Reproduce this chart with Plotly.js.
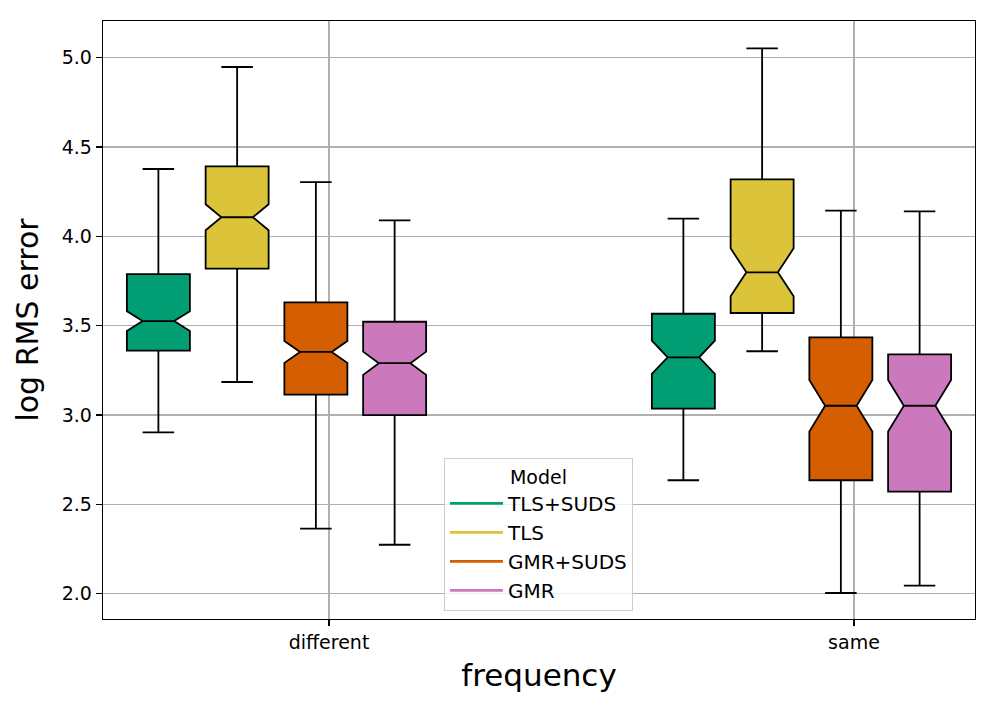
<!DOCTYPE html>
<html>
<head>
<meta charset="utf-8">
<script src="https://cdn.plot.ly/plotly-3.0.1.min.js"></script>
<style>html,body{margin:0;padding:0;background:#fff;}#chart{width:996px;height:712px;}</style>
</head>
<body>
<div id="chart"></div>
<script>
// ---- data ----
const categories = ["different", "same"];
const models = ["TLS+SUDS", "TLS", "GMR+SUDS", "GMR"];
const colors = ["#029e73", "#dcc43a", "#d55e00", "#cc78bc"];
// each row = one model, columns = categories
const lowerFence = [[2.903, 2.635], [3.185, 3.357], [2.364, 2.004], [2.274, 2.045]];
const q1 =         [[3.360, 3.036], [3.819, 3.571], [3.114, 2.635], [3.000, 2.571]];
const median =     [[3.526, 3.323], [4.107, 3.799], [3.353, 3.052], [3.290, 3.052]];
const q3 =         [[3.789, 3.567], [4.392, 4.319], [3.631, 3.435], [3.522, 3.340]];
const upperFence = [[4.377, 4.099], [4.948, 5.052], [4.304, 4.144], [4.090, 4.140]];
const notchSpan =  [[0.055, 0.093], [0.073, 0.134], [0.061, 0.144], [0.065, 0.144]];
const yTickVals = [2.0, 2.5, 3.0, 3.5, 4.0, 4.5, 5.0];

const FONT = "DejaVu Sans, Liberation Sans, sans-serif";
const traces = [];
models.forEach((m, i) => {
  traces.push({
    type: "box",
    name: m,
    x: categories,
    q1: q1[i], median: median[i], q3: q3[i],
    lowerfence: lowerFence[i], upperfence: upperFence[i],
    notchspan: notchSpan[i],
    notched: true,
    notchwidth: 0.25,
    whiskerwidth: 0.5,
    boxpoints: false,
    fillcolor: colors[i],
    line: {color: "#000000", width: 1.8},
    xaxis: "x2", yaxis: "y",
    showlegend: false,
    hoverinfo: "y"
  });
});
// legend entries drawn as lines (like the reference)
models.forEach((m, i) => {
  traces.push({
    type: "scatter", mode: "lines", name: m,
    x: [null], y: [null],
    line: {color: colors[i], width: 2.8},
    xaxis: "x", yaxis: "y",
    showlegend: true
  });
});

const layout = {
  width: 996, height: 712,
  margin: {l: 103, r: 21, t: 21, b: 93},
  paper_bgcolor: "#ffffff", plot_bgcolor: "#ffffff",
  font: {family: FONT, size: 19, color: "#000000"},
  boxmode: "group", boxgap: 0.4, boxgroupgap: 0.2,
  showlegend: true,
  xaxis: {
    type: "linear", range: [-0.4305, 1.2305],
    tickmode: "array", tickvals: [0, 1], ticktext: categories,
    showgrid: true, gridcolor: "#b0b0b0", gridwidth: 1.3,
    zeroline: false,
    showline: true, mirror: true, linecolor: "#000000", linewidth: 1.3,
    ticks: "outside", ticklen: 6, tickwidth: 1.3, tickcolor: "#000000",
    tickfont: {family: FONT, size: 19, color: "#000000"},
    title: {text: "frequency", font: {family: FONT, size: 31, color: "#000000"}, standoff: 12},
    fixedrange: true
  },
  xaxis2: {
    type: "category", overlaying: "x", anchor: "y",
    range: [-0.3305, 1.3305],
    visible: false, showgrid: false, zeroline: false,
    fixedrange: true
  },
  yaxis: {
    range: [1.8584, 5.2054],
    tickmode: "array", tickvals: yTickVals, tickformat: ".1f",
    showgrid: true, gridcolor: "#b0b0b0", gridwidth: 1.3,
    zeroline: false,
    showline: true, mirror: true, linecolor: "#000000", linewidth: 1.3,
    ticks: "outside", ticklen: 6, tickwidth: 1.3, tickcolor: "#000000",
    tickfont: {family: FONT, size: 19, color: "#000000"},
    title: {text: "log RMS error", font: {family: FONT, size: 30, color: "#000000"}, standoff: 14},
    fixedrange: true
  },
  legend: {
    x: 0.391, y: 0.269, xanchor: "left", yanchor: "top",
    bgcolor: "rgba(255,255,255,0.8)", bordercolor: "#cccccc", borderwidth: 1,
    font: {family: FONT, size: 20, color: "#000000"},
    title: {text: "Model", side: "top center", font: {family: FONT, size: 19, color: "#000000"}},
    itemwidth: 53,
    tracegroupgap: 0
  }
};

Plotly.newPlot("chart", traces, layout, {displayModeBar: false, staticPlot: true});
</script>
</body>
</html>
